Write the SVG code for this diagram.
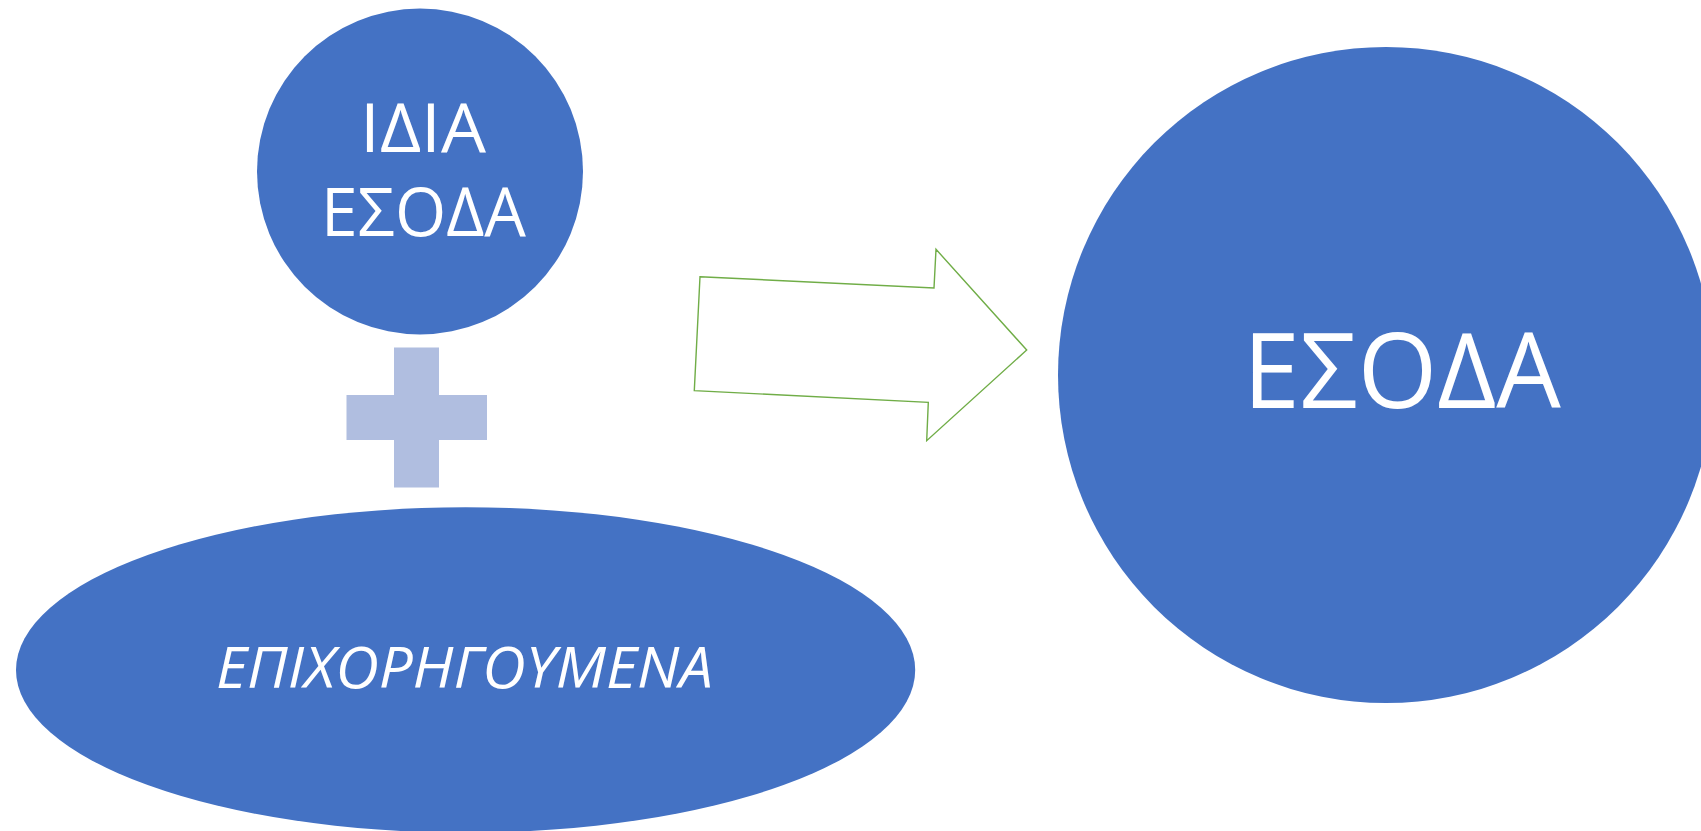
<svg xmlns="http://www.w3.org/2000/svg" width="1701" height="831" viewBox="0 0 1701 831">
<style>
.node{fill:#4472C4}
.lbl{fill:#FFFFFF;font-family:"Open Sans","Noto Sans","DejaVu Sans",sans-serif}
.plus{fill:#B0BEE0}
.arrow{fill:#FFFFFF;stroke:#70AD47;stroke-width:1.4;stroke-linejoin:miter}
</style>
<rect width="1701" height="831" fill="#FFFFFF"/>
<g id="idia-esoda">
<circle class="node" cx="420" cy="171.5" r="163"/>
<text class="lbl" x="360" y="151.7" font-size="68" textLength="126" lengthAdjust="spacingAndGlyphs">ΙΔΙΑ</text>
<text class="lbl" x="321" y="236" font-size="68" textLength="205" lengthAdjust="spacingAndGlyphs">ΕΣΟΔΑ</text>
</g>
<g id="plus">
<rect class="plus" x="394" y="347.5" width="45" height="140"/>
<rect class="plus" x="346.5" y="395" width="140.5" height="45"/>
</g>
<g id="epichorigoumena">
<ellipse class="node" cx="465.6" cy="670" rx="449.6" ry="162.7"/>
<text class="lbl" x="216" y="688" font-size="56" font-style="italic" textLength="497" lengthAdjust="spacingAndGlyphs">ΕΠΙΧΟΡΗΓΟΥΜΕΝΑ</text>
</g>
<g id="esoda">
<circle class="node" cx="1386" cy="375" r="328"/>
<text class="lbl" x="1243" y="408" font-size="104" textLength="318" lengthAdjust="spacingAndGlyphs">ΕΣΟΔΑ</text>
</g>
<g id="connectors">
<polygon class="arrow" points="700,276.7 934,288 936,249.3 1026.7,350 926.7,440.7 928.3,402.3 694.3,390.7"/>
</g>
</svg>
